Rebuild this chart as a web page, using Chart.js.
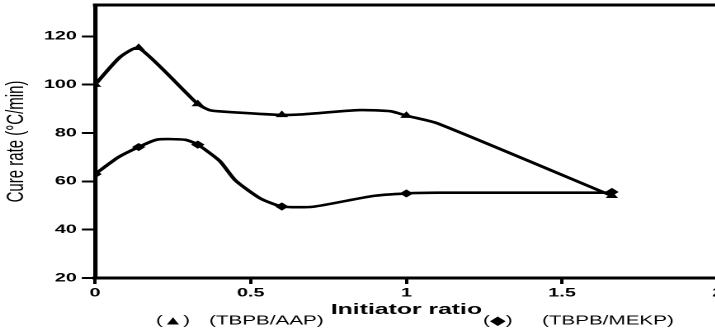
<!DOCTYPE html>
<html>
<head>
<meta charset="utf-8">
<script src="https://cdn.jsdelivr.net/npm/chart.js@4/dist/chart.umd.min.js"></script>
<style>
  html, body { margin: 0; padding: 0; background: #fff; width: 715px; height: 333px; overflow: hidden; }
  #wrap { position: absolute; left: 0; top: 0; width: 440px; height: 333px; transform: scaleX(1.65); transform-origin: 0 0; }
</style>
</head>
<body>
<div id="wrap"><canvas id="c"></canvas></div>
<script>
// ---- data ----
const seriesNames = ['(TBPB/AAP)', '(TBPB/MEKP)'];
const markerSymbols = ['(\u25B2)', '(\u25C6)'];
const xAxisTitle = 'Initiator ratio';
const yAxisTitle = 'Cure rate (\u00B0C/min)';
const xTickValues = [0, 0.5, 1, 1.5, 2];
const yTickValues = [20, 40, 60, 80, 100, 120];

// measured points (markers)
const markerX = [0, 0.14, 0.33, 0.6, 1.0, 1.66];
const aapValues = [100, 115.3, 92, 87.5, 87.2, 54];
const mekpValues = [63, 74.2, 75.2, 49.6, 55, 55.6];

// traced curves (as drawn in the figure)
const aapCurveX = [0, 0.08, 0.14, 0.33, 0.37, 0.42, 0.6, 0.66, 0.85, 0.95, 1.0, 1.1, 1.66];
const aapCurveY = [100, 111.4, 115.3, 92, 89.4, 88.8, 87.5, 87.7, 89.5, 89, 87.2, 84, 54];
const mekpCurveX = [0, 0.075, 0.14, 0.2, 0.29, 0.33, 0.4, 0.45, 0.53, 0.6, 0.7, 0.89, 1.0, 1.1, 1.66];
const mekpCurveY = [63, 70, 74.2, 77.3, 77.2, 75.2, 68.5, 60.5, 53, 49.6, 49.5, 53.9, 55, 55.3, 55.3];

const pts = (xs, ys) => xs.map((x, i) => ({x: x, y: ys[i]}));

const frame = {
  id: 'frame',
  afterDraw(chart) {
    const {ctx, chartArea: a} = chart;
    ctx.save();
    ctx.strokeStyle = '#000';
    ctx.lineWidth = 3;
    ctx.beginPath();
    ctx.moveTo(a.left - 1.3, a.top);
    ctx.lineTo(a.right, a.top);
    ctx.lineTo(a.right, a.bottom);
    ctx.stroke();
    ctx.restore();
  }
};

const legendText = {
  id: 'legendText',
  afterDraw(chart) {
    const ctx = chart.ctx;
    ctx.save();
    ctx.fillStyle = '#000';
    ctx.textBaseline = 'middle';
    ctx.font = '12.5px "Liberation Sans", "DejaVu Sans", sans-serif';
    const y = 321;
    const symX = [94.5, 292.7];
    const txtX = [126.7, 328.5];
    for (let i = 0; i < 2; i++) {
      ctx.fillText(markerSymbols[i], symX[i], y);
      ctx.fillText(chart.data.datasets[i].label, txtX[i], y);
    }
    ctx.restore();
  }
};

const noPad = s => { s.paddingTop = 0; s.paddingBottom = 0; s.paddingLeft = 0; s.paddingRight = 0; };

new Chart(document.getElementById('c'), {
  type: 'scatter',
  data: {
    datasets: [
      { label: seriesNames[0], data: pts(markerX, aapValues), showLine: false,
        pointStyle: 'triangle', pointRadius: 3.4, backgroundColor: '#000', borderColor: '#000', borderWidth: 1 },
      { label: seriesNames[1], data: pts(markerX, mekpValues), showLine: false,
        pointStyle: 'rectRot', pointRadius: 3.4, backgroundColor: '#000', borderColor: '#000', borderWidth: 1 },
      { label: 'aapCurve', data: pts(aapCurveX, aapCurveY), showLine: true, pointRadius: 0,
        borderColor: '#000', borderWidth: 2.6, tension: 0.2 },
      { label: 'mekpCurve', data: pts(mekpCurveX, mekpCurveY), showLine: true, pointRadius: 0,
        borderColor: '#000', borderWidth: 2.6, tension: 0.2 }
    ]
  },
  options: {
    responsive: true,
    maintainAspectRatio: false,
    animation: false,
    devicePixelRatio: 2,
    layout: { padding: { left: 0, right: 5, top: 4.7, bottom: 0 } },
    plugins: { legend: { display: false }, tooltip: { enabled: false } },
    scales: {
      x: {
        type: 'linear', min: 0, max: 2,
        afterBuildTicks: s => { s.ticks = xTickValues.map(v => ({value: v})); },
        afterFit: s => { s.height = 55; s.paddingTop = 0; s.paddingBottom = 0; s.paddingLeft = 0; s.paddingRight = 3.5; },
        border: { display: true, color: '#000', width: 3 },
        grid: { display: true, drawOnChartArea: false, drawTicks: true, tickLength: 6, tickWidth: 2, tickColor: '#000' },
        ticks: { color: '#000', padding: 2, maxRotation: 0, autoSkip: false,
          font: { family: '"Liberation Sans", Arial, sans-serif', size: 12, weight: 'bold' },
          callback: v => String(v) },
        title: { display: true, text: xAxisTitle, color: '#000', padding: { top: 0, bottom: 14 },
          font: { family: '"Liberation Sans", Arial, sans-serif', size: 15, weight: 'bold', lineHeight: 1.2 } }
      },
      y: {
        type: 'linear', min: 20, max: 133,
        afterBuildTicks: s => { s.ticks = yTickValues.map(v => ({value: v})); },
        afterFit: s => { s.width = 57.6; noPad(s); },
        border: { display: true, color: '#000', width: 2.6 },
        grid: { display: true, drawOnChartArea: false, drawTicks: true, tickLength: 8, tickWidth: 2, tickColor: '#000' },
        ticks: { color: '#000', padding: 3,
          font: { family: '"Liberation Sans", Arial, sans-serif', size: 12, weight: 'bold' } },
        title: { display: true, text: yAxisTitle, color: '#000', padding: { top: 0.8, bottom: 0 },
          font: { family: '"Liberation Sans", Arial, sans-serif', size: 15, weight: 'normal', lineHeight: 1.2 } }
      }
    }
  },
  plugins: [frame, legendText]
});
</script>
</body>
</html>
